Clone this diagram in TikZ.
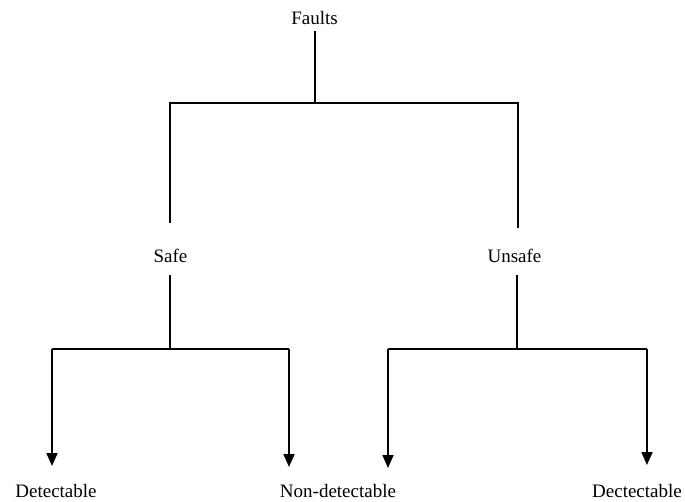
\documentclass[tikz,border=0pt]{standalone}
\usepackage{fontspec}
\setmainfont{Liberation Serif}
\usetikzlibrary{arrows.meta}
\begin{document}
\begin{tikzpicture}[x=1pt,y=-1pt,
  lbl/.style={anchor=base,inner sep=0pt,font=\fontsize{19}{22}\selectfont},
  wire/.style={line width=1.8pt},
  arr/.style={wire,-{Triangle[width=11pt,length=13pt]}}]
\useasboundingbox (0,0) rectangle (685,502);
\node[lbl] (faults) at (314.5,25) {Faults};
\node[lbl] (safe) at (170.5,263) {Safe};
\node[lbl] (unsafe) at (514.5,263) {Unsafe};
\node[lbl] (d1) at (56,497) {Detectable};
\node[lbl] (nd) at (338,497) {Non-detectable};
\node[lbl] (d2) at (637,497) {Dectectable};
% junction coordinates
\coordinate (ftop) at (315,31);
\coordinate (fj) at (315,103);
\coordinate (sj) at (170,103);
\coordinate (uj) at (518,103);
\coordinate (sin) at (170,223);
\coordinate (uin) at (518,228);
\coordinate (sout) at (170,275);
\coordinate (uout) at (517,275);
\coordinate (sbar) at (170,349);
\coordinate (ubar) at (517,349);
\coordinate (sl) at (52,349);
\coordinate (sr) at (289,349);
\coordinate (ul) at (388,349);
\coordinate (ur) at (647,349);
\coordinate (t1) at (52,466);
\coordinate (t2) at (289,467);
\coordinate (t3) at (388,468);
\coordinate (t4) at (647,465);
% connectors
\draw[wire] (ftop) -- (fj);
\draw[wire] (sin) -- (sj) -- (uj) -- (uin);
\draw[wire] (sout) -- (sbar);
\draw[wire] (uout) -- (ubar);
\draw[wire] (sl) -- (sr);
\draw[wire] (ul) -- (ur);
\draw[arr] (sl) -- (t1);
\draw[arr] (sr) -- (t2);
\draw[arr] (ul) -- (t3);
\draw[arr] (ur) -- (t4);
\end{tikzpicture}
\end{document}
